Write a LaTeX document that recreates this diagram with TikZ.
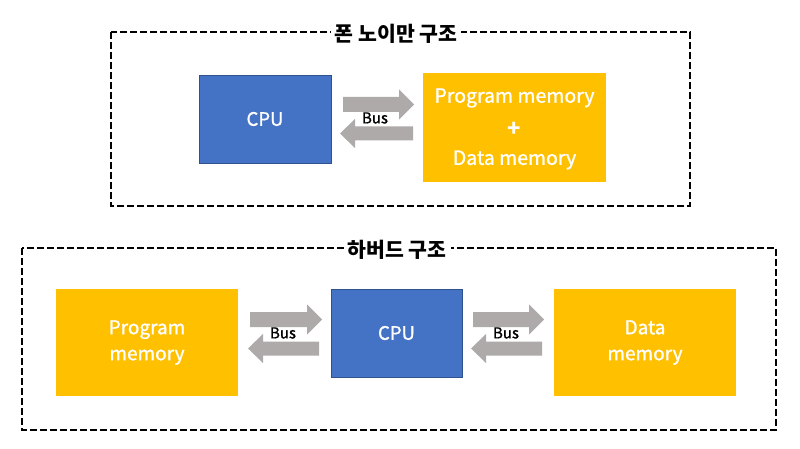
\documentclass[tikz,border=0pt]{standalone}
\usepackage{fontspec}
\setmainfont{Noto Sans CJK KR}
\newfontfamily\medfont[FakeBold=1.2]{Noto Sans CJK KR}
\definecolor{cpublue}{HTML}{4472C4}
\definecolor{cpuedge}{HTML}{2F528F}
\definecolor{memyellow}{HTML}{FFC000}
\definecolor{busgray}{HTML}{AEAAAA}
\tikzset{
  frame/.style={draw=black, line width=2.8pt, dash pattern=on 7pt off 3pt},
  title/.style={fill=white, inner xsep=4pt, inner ysep=1pt, font=\fontsize{20.5}{24}\selectfont\bfseries, text=black},
  cpubox/.style={fill=cpublue, draw=cpuedge, line width=0.6pt, text=white, font=\medfont\fontsize{18.5}{22}\selectfont, inner sep=0pt},
  membox/.style={fill=memyellow, text=white, font=\medfont\fontsize{19}{26}\selectfont, align=center, inner sep=0pt},
  memtext/.style={text=white, font=\medfont\fontsize{19.5}{22}\selectfont, inner sep=0pt},
  busfill/.style={fill=busgray, draw=none},
  buslabel/.style={font=\medfont\fontsize{15}{17}\selectfont, text=black, inner sep=0pt}
}
% right-pointing arrow: #1 left x, #2 tip x, #3 centre y
\newcommand{\busright}[3]{%
  \fill[busfill] (#1,#3-7.5) -- (#2-15,#3-7.5) -- (#2-15,#3-15) -- (#2,#3) -- (#2-15,#3+15) -- (#2-15,#3+7.5) -- (#1,#3+7.5) -- cycle;}
% left-pointing arrow: #1 tip x, #2 right x, #3 centre y
\newcommand{\busleft}[3]{%
  \fill[busfill] (#2,#3-7) -- (#1+15,#3-7) -- (#1+15,#3-14.5) -- (#1,#3) -- (#1+15,#3+14.5) -- (#1+15,#3+7) -- (#2,#3+7) -- cycle;}
\begin{document}
\begin{tikzpicture}[x=1pt, y=-1pt]
\useasboundingbox[fill=white] (0,0) rectangle (800,449);

% ---- top frame
\draw[frame] (111,32) rectangle (690,206);
\node[title] (t1) at (396,34) {폰 노이만 구조};
\node[cpubox, minimum width=132pt, minimum height=88pt] (cpu1) at (265,119) {CPU};
\node[membox, minimum width=183pt, minimum height=109pt] (mem1) at (514.5,127.5) {};
\node[memtext] (pm1) at (514.5,98) {Program memory};
\node[memtext, font=\fontsize{22}{24}\selectfont\bfseries] (plus1) at (514.5,129) {+};
\node[memtext] (dm1) at (514.5,160) {Data memory};
\busright{343}{414}{104.5}
\busleft{340}{413}{133.5}
\node[buslabel] (b1) at (375,118) {Bus};

% ---- bottom frame
\draw[frame] (22,248) rectangle (776,430);
\node[title] (t2) at (397,250) {하버드 구조};
\node[membox, minimum width=182pt, minimum height=107pt] (pmem) at (147,342.5) {Program\\memory};
\node[cpubox, minimum width=131pt, minimum height=88pt] (cpu2) at (396.5,333) {CPU};
\node[membox, minimum width=182pt, minimum height=107pt] (dmem) at (645,342.5) {Data\\memory};
\busright{250}{322}{319.5}
\busleft{248}{319}{348.5}
\node[buslabel] (b2) at (283,333) {Bus};
\busright{473}{544}{319.5}
\busleft{471}{542}{348.5}
\node[buslabel] (b3) at (506,333) {Bus};
\end{tikzpicture}
\end{document}
